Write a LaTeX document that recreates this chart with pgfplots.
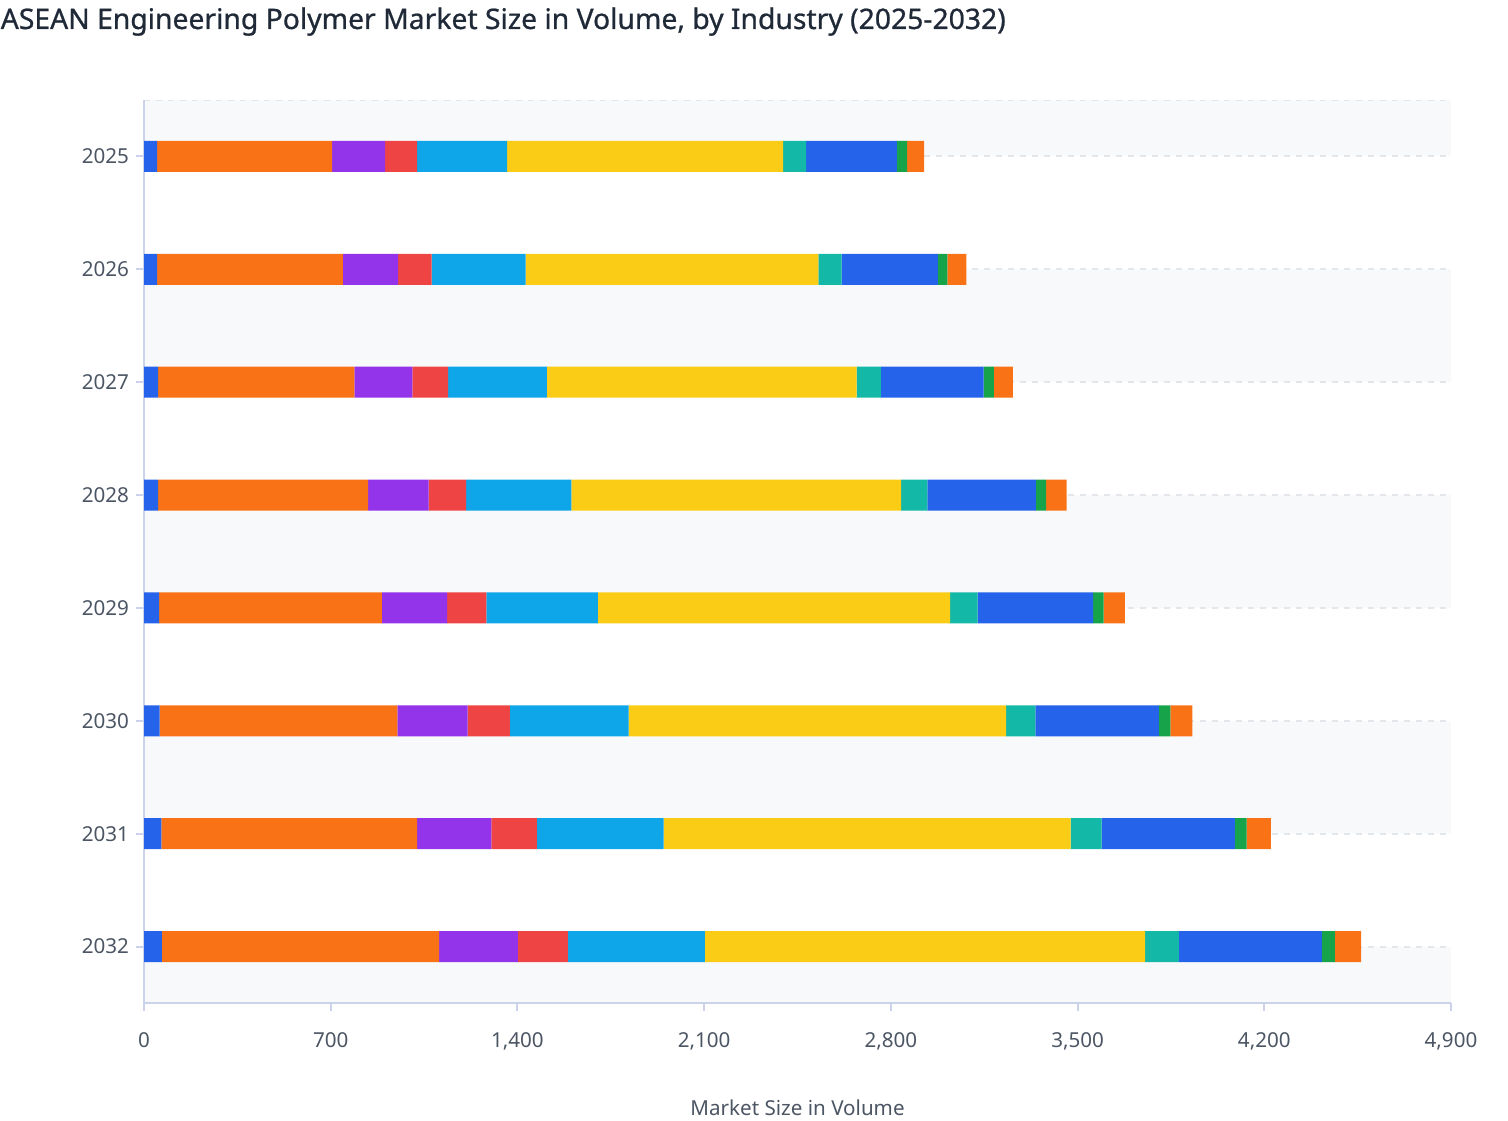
\documentclass[border=0pt]{standalone}
\usepackage{fontspec}
\setmainfont{Noto Sans}
\newfontfamily\titlefont{Noto Sans}[FakeBold=0.8]
\usepackage{pgfplots}
\pgfplotsset{compat=1.18}
\usepackage{pgfplotstable}
\definecolor{cA}{HTML}{2563EB}
\definecolor{cB}{HTML}{F97316}
\definecolor{cC}{HTML}{9333EA}
\definecolor{cD}{HTML}{EF4444}
\definecolor{cE}{HTML}{0EA5E9}
\definecolor{cF}{HTML}{FACC15}
\definecolor{cG}{HTML}{14B8A6}
\definecolor{cH}{HTML}{2563EB}
\definecolor{cI}{HTML}{16A34A}
\definecolor{cJ}{HTML}{F97316}
\definecolor{axiscol}{HTML}{CBD3EC}
\definecolor{gridcol}{HTML}{E3E6EB}
\definecolor{bandcol}{HTML}{F8F9FB}
\definecolor{labcol}{HTML}{4B5563}
\definecolor{titlecol}{HTML}{1F2937}

\pgfplotstableread{
y a b c d e f g h i j
0 49 656 199 120 337 1035 86 341 38 64
1 49 697 207 125 353 1097 87 361 36 71
2 53 736 217 134 370 1162 91 385 38 71
3 53 787 227 141 394 1236 99 407 38 77
4 57 835 244 148 418 1320 103 433 40 79
5 59 891 263 159 445 1415 110 463 43 82
6 65 959 278 171 475 1526 116 500 44 91
7 67 1039 296 187 514 1650 127 536 49 98
}\datatable

\pgfplotsset{
  common/.style={
    at={(0,0)}, anchor=south west,
    scale only axis, width=653.5pt, height=451.5pt,
    xmin=0, xmax=4900, ymin=-0.5, ymax=7.5, y dir=reverse,
    enlargelimits=false,
  }
}

\begin{document}
\begin{tikzpicture}
\useasboundingbox (-72pt,-58.5pt) rectangle (682pt,501.5pt);
\node[anchor=base west, inner sep=0pt, text=titlecol, font=\titlefont\fontsize{14.15}{16}\selectfont] at (-71.8pt,487.0pt) {ASEAN Engineering Polymer Market Size in Volume, by Industry (2025-2032)};
% background bands and grid
\begin{axis}[common, hide axis]
\fill[bandcol] (axis cs:0,-0.5) rectangle (axis cs:4900,0);
\fill[bandcol] (axis cs:0,1) rectangle (axis cs:4900,2);
\fill[bandcol] (axis cs:0,3) rectangle (axis cs:4900,4);
\fill[bandcol] (axis cs:0,5) rectangle (axis cs:4900,6);
\fill[bandcol] (axis cs:0,7) rectangle (axis cs:4900,7.5);
\foreach \yy in {-0.5,0,1,2,3,4,5,6,7} {
  \edef\tmp{\noexpand\draw[dash pattern=on 3pt off 3pt, draw=gridcol, line width=1pt] (axis cs:0,\yy) -- (axis cs:4900,\yy);}
  \tmp
}
\end{axis}
% bars
\begin{axis}[
  common,
  xbar stacked, bar width=0.275,
  xtick={0,700,...,4900},
  ytick={0,...,7},
  yticklabels={2025,2026,2027,2028,2029,2030,2031,2032},
  axis x line*=bottom, axis y line*=left,
  axis line style={draw=axiscol, line width=1pt, -},
  tick style={draw=axiscol, line width=1pt},
  tick align=outside, major tick length=4pt,
  xtick pos=bottom, ytick pos=left,
  ticklabel style={font=\fontsize{10.3}{12}\selectfont, text=labcol},
  xticklabel style={yshift=-7pt},
  /pgf/number format/.cd, 1000 sep={,}, assume math mode=true,
]
\addplot[fill=cA, draw=none] table[x=a, y=y] {\datatable};
\addplot[fill=cB, draw=none] table[x=b, y=y] {\datatable};
\addplot[fill=cC, draw=none] table[x=c, y=y] {\datatable};
\addplot[fill=cD, draw=none] table[x=d, y=y] {\datatable};
\addplot[fill=cE, draw=none] table[x=e, y=y] {\datatable};
\addplot[fill=cF, draw=none] table[x=f, y=y] {\datatable};
\addplot[fill=cG, draw=none] table[x=g, y=y] {\datatable};
\addplot[fill=cH, draw=none] table[x=h, y=y] {\datatable};
\addplot[fill=cI, draw=none] table[x=i, y=y] {\datatable};
\addplot[fill=cJ, draw=none] table[x=j, y=y] {\datatable};
\end{axis}
\node[anchor=base, text=labcol, font=\fontsize{10.3}{12}\selectfont] at (326.75pt,-56.3pt) {Market Size in Volume};
\end{tikzpicture}
\end{document}
